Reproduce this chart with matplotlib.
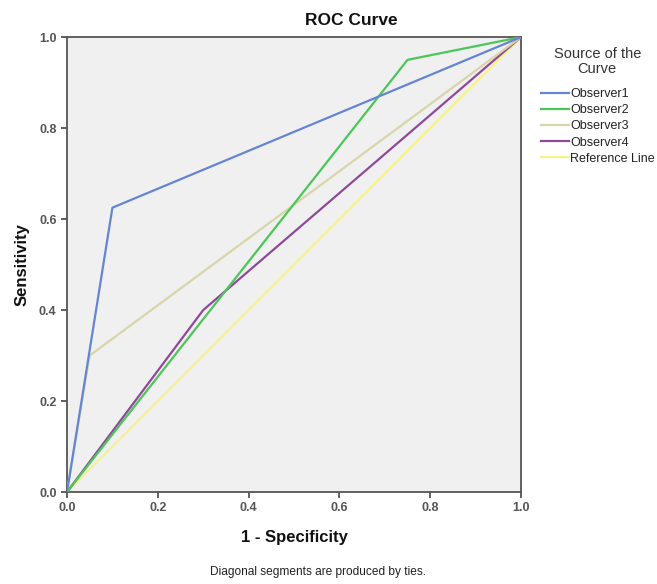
import matplotlib
matplotlib.use("Agg")
import matplotlib.pyplot as plt

plt.rcParams['font.family'] = ['Liberation Sans', 'DejaVu Sans']

names = ["Observer1", "Observer2", "Observer3", "Observer4", "Reference Line"]
fpr = [
    [0.0, 0.10, 1.0],
    [0.0, 0.75, 1.0],
    [0.0, 0.05, 1.0],
    [0.0, 0.30, 1.0],
    [0.0, 1.0],
]
tpr = [
    [0.0, 0.625, 1.0],
    [0.0, 0.95, 1.0],
    [0.0, 0.30, 1.0],
    [0.0, 0.40, 1.0],
    [0.0, 1.0],
]
colors = ["#6585d4", "#4cc658", "#d9d5ab", "#8e4a9a", "#f6f38a"]

fig = plt.figure(figsize=(6.57, 5.84), dpi=100)
ax = fig.add_axes([0.102, 0.1575, 0.691, 0.779])
ax.set_facecolor("#f0f0f0")

# reference line drawn first so it sits underneath
lines = {}
for i in [4, 3, 2, 1, 0]:
    lines[names[i]], = ax.plot(fpr[i], tpr[i], color=colors[i], lw=1.6,
                               label=names[i], zorder=2 + (4 - i))

ax.set_xlim(0, 1)
ax.set_ylim(0, 1)
ticks = [0.0, 0.2, 0.4, 0.6, 0.8, 1.0]
ax.set_xticks(ticks)
ax.set_yticks(ticks)
ax.set_xticklabels([f"{t:.1f}" for t in ticks], fontweight="bold")
ax.set_yticklabels([f"{t:.1f}" for t in ticks], fontweight="bold")
ax.tick_params(direction="out", length=4, width=1.2, colors="#444444",
               labelsize=9, labelcolor="#555555")
for s in ax.spines.values():
    s.set_color("#555555")
    s.set_linewidth(1.3)

fig.text(0.534, 0.965, "ROC Curve", ha="center", va="center",
         fontsize=12.5, fontweight="bold", color="#111111")
ax.set_xlabel("1 - Specificity", fontsize=12, fontweight="bold", labelpad=11,
              color="#111111")
ax.set_ylabel("Sensitivity", fontsize=12, fontweight="bold", labelpad=7,
              color="#111111")

# legend title as separate text so the gap matches
fig.text(0.909, 0.895, "Source of the\nCurve", ha="center", va="center",
         fontsize=10.5, linespacing=1.12, color="#333333")
leg = fig.legend([lines[n] for n in names], names,
                 loc="upper left", bbox_to_anchor=(0.823, 0.849), frameon=False,
                 fontsize=9, handlelength=2.3,
                 handletextpad=0.05, labelspacing=0.33, borderpad=0,
                 borderaxespad=0)
for t in leg.get_texts():
    t.set_color("#222222")

fig.text(0.484, 0.016, "Diagonal segments are produced by ties.", ha="center",
         fontsize=8.6, color="#222222")

fig.savefig("out.png", dpi=100)
